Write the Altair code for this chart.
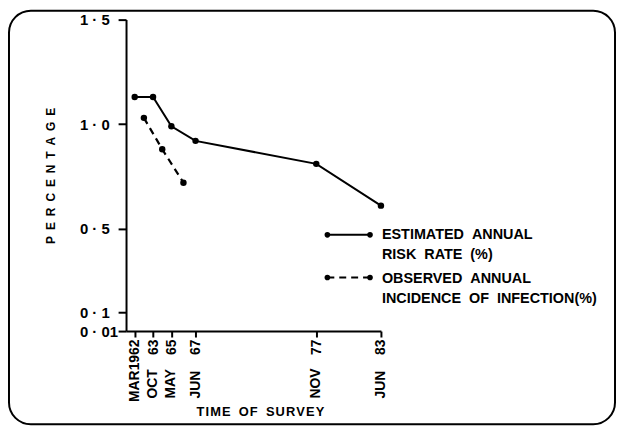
import altair as alt
import pandas as pd

# ---- data ----
survey_dates = ["1962/03/01", "1963/10/01", "1965/05/01", "1967/06/01", "1977/11/01", "1983/06/01"]
survey_months = ["", "OCT", "MAY", "JUN", "NOV", "JUN"]
risk_rate = [1.13, 1.13, 0.99, 0.92, 0.81, 0.61]          # estimated annual risk rate (%)
obs_dates = ["1962/12/16", "1964/07/16", "1966/05/16"]     # mid-points of survey intervals
obs_incidence = [1.03, 0.88, 0.72]                           # observed annual incidence (%)
y_ticks = [0.01, 0.1, 0.5, 1.0, 1.5]

FONT = "Liberation Sans"
W, H = 257, 314
SP = "\u00a0"

est_df = pd.DataFrame({"date": survey_dates, "value": risk_rate})
obs_df = pd.DataFrame({"date": obs_dates, "value": obs_incidence})
month_df = pd.DataFrame({"date": survey_dates, "month": survey_months})
month_df = month_df[month_df["month"] != ""]
one = pd.DataFrame({"k": [0]})


def dt(s):
    y, m, d = (int(p) for p in s.split("/"))
    return alt.DateTime(year=y, month=m, date=d)


x_scale = alt.Scale(domain=[dt("1961/06/01"), dt("1983/06/01")], nice=False)
y_scale = alt.Scale(domain=[0.01, 1.5], nice=False, zero=False)

x_enc = alt.X(
    "date:T",
    scale=x_scale,
    axis=alt.Axis(
        values=[dt(s) for s in survey_dates],
        labelExpr="timeFormat(datum.value, '%Y') == '1962' ? 'MAR1962' : timeFormat(datum.value, '%y')",
        labelAngle=270,
        labelAlign="right",
        labelBaseline="middle",
        labelPadding=2,
        labelFont=FONT,
        labelFontSize=14,
        labelFontWeight="bold",
        labelColor="black",
        tickSize=6,
        tickWidth=2,
        tickColor="black",
        domainColor="black",
        domainWidth=2,
        grid=False,
        labelOverlap=False,
        title="T\u200aI\u200aM\u200aE\u200a\u00a0 O\u200aF\u200a\u00a0 S\u200aU\u200aR\u200aV\u200aE\u200aY",
        titleFont=FONT,
        titleFontSize=13,
        titleFontWeight="bold",
        titleColor="black",
        titleX=135,
        titleY=81,
        titleAlign="center",
        titleBaseline="middle",
    ),
)

y_enc = alt.Y(
    "value:Q",
    scale=y_scale,
    axis=alt.Axis(
        values=y_ticks,
        labelExpr=f"datum.value < 0.05 ? '0{SP}·{SP}01' : replace(format(datum.value, '.1f'), '.', '{SP}·{SP}')",
        labelFont=FONT,
        labelFontSize=15,
        labelFontWeight="bold",
        labelColor="black",
        labelAlign="left",
        labelPadding=39,
        tickSize=8,
        tickWidth=2,
        tickColor="black",
        domainColor="black",
        domainWidth=2,
        grid=False,
        labelOverlap=False,
        title="P\u2002E\u2002R\u2002C\u2002E\u2002N\u2002T\u2002A\u2002G\u2002E",
        titleFont=FONT,
        titleFontSize=12,
        titleFontWeight="bold",
        titleColor="black",
        titleAngle=270,
        titleX=-76,
        titleY=157,
        titleAlign="center",
        titleBaseline="middle",
    ),
)

est_line = alt.Chart(est_df).mark_line(color="black", strokeWidth=2).encode(x=x_enc, y=y_enc)
est_pts = alt.Chart(est_df).mark_point(filled=True, color="black", size=42, opacity=1).encode(
    x="date:T", y="value:Q")
obs_line = alt.Chart(obs_df).mark_line(color="black", strokeWidth=2.2, strokeDash=[7, 5]).encode(
    x="date:T", y="value:Q")
obs_pts = alt.Chart(obs_df).mark_point(filled=True, color="black", size=42, opacity=1).encode(
    x="date:T", y="value:Q")

months = alt.Chart(month_df).mark_text(
    angle=270, align="left", baseline="middle", font=FONT, fontSize=14, fontWeight="bold", color="black"
).encode(x="date:T", y=alt.value(H + 68), text="month:N")

# ---- hand-drawn style legend ----
legend_layers = []


def legend_item(y_line, dash, lines, y_text):
    kw = dict(color="black", strokeWidth=2 if not dash else 2.2)
    if dash:
        kw["strokeDash"] = [7, 5]
    legend_layers.append(alt.Chart(one).mark_rule(**kw).encode(
        x=alt.value(203), x2=alt.value(246), y=alt.value(y_line)))
    for xp in (203, 246):
        legend_layers.append(alt.Chart(one).mark_point(filled=True, color="black", size=32, opacity=1).encode(
            x=alt.value(xp), y=alt.value(y_line)))
    for i, t in enumerate(lines):
        legend_layers.append(alt.Chart(one).mark_text(
            align="left", baseline="middle", font=FONT, fontSize=14.5, fontWeight="bold", color="black"
        ).encode(x=alt.value(258), y=alt.value(y_text + 20 * i), text=alt.value(t)))


legend_item(217, False, [f"ESTIMATED{SP}{SP}ANNUAL", f"RISK{SP}{SP}RATE{SP}{SP}(%)"], 217)
legend_item(260, True, [f"OBSERVED{SP}{SP}ANNUAL", f"INCIDENCE{SP}{SP}OF{SP}{SP}INFECTION(%)"], 262)

frame = alt.Chart(one).mark_rect(
    fillOpacity=0, stroke="black", strokeWidth=2, cornerRadius=22
).encode(x=alt.value(-118), x2=alt.value(493), y=alt.value(-9), y2=alt.value(408))

chart = alt.layer(
    frame, est_line, est_pts, obs_line, obs_pts, months, *legend_layers
).properties(
    width=W, height=H, padding=0, background="white"
).configure_view(stroke=None)

chart.save("out.html", embed_options={"renderer": "svg", "actions": False})
